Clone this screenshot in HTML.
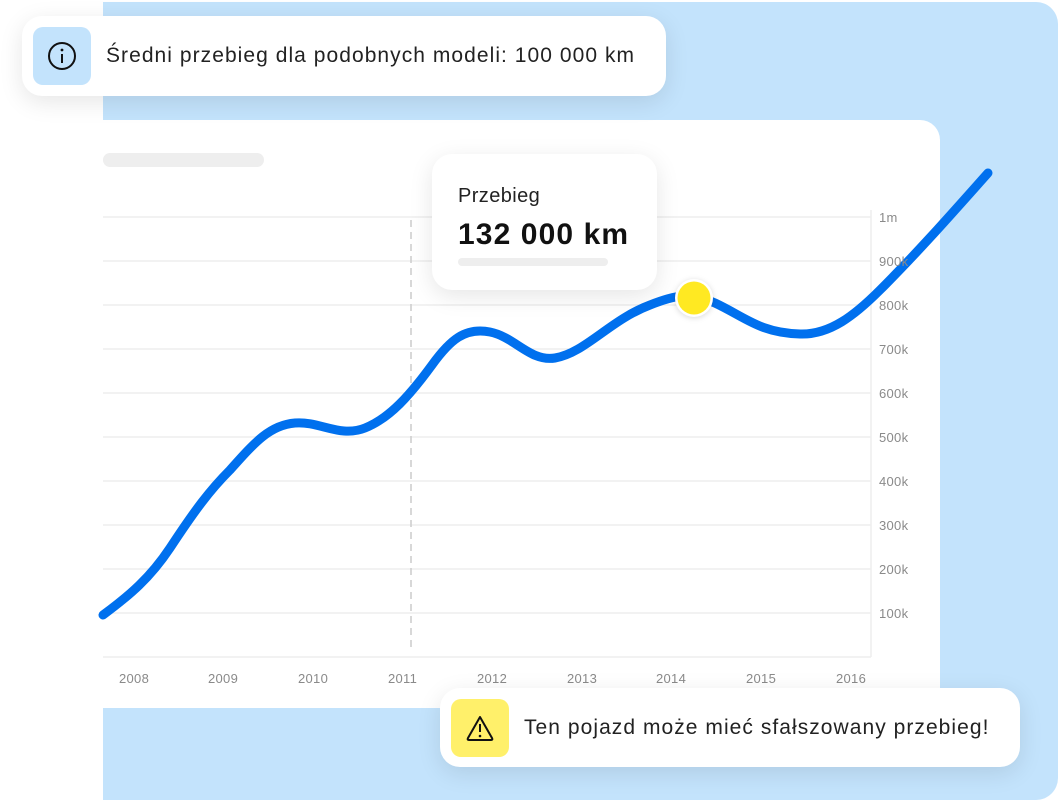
<!DOCTYPE html>
<html><head><meta charset="utf-8"><style>
*{margin:0;padding:0;box-sizing:border-box}
body{width:1058px;height:800px;background:#fff;position:relative;overflow:hidden;font-family:"Liberation Sans",sans-serif}
.bg{position:absolute;left:103px;top:2px;width:955px;height:798px;background:#c3e3fc;border-radius:0 22px 22px 0}
.card{position:absolute;left:103px;top:120px;width:837px;height:588px;background:#fff;border-radius:0 20px 20px 0}
.pill{position:absolute;background:#fff;border-radius:20px;box-shadow:0 6px 24px rgba(0,0,0,.10);display:flex;align-items:center}
.ic{width:58px;height:58px;border-radius:10px;display:flex;align-items:center;justify-content:center;margin:0 15px 0 11px}
.lab{position:absolute;font-size:13px;color:#8a8a8a;letter-spacing:.3px}
</style></head><body>
<div class="bg"></div>
<div class="card"></div>
<svg style="position:absolute;left:0;top:0" width="1058" height="800">
<rect x="103" y="153" width="161" height="14" rx="7" fill="#eeeeee"/>
<g stroke="#eeeeee" stroke-width="1.5">
<line x1="103" y1="217" x2="871" y2="217"/><line x1="103" y1="261" x2="871" y2="261"/>
<line x1="103" y1="305" x2="871" y2="305"/><line x1="103" y1="349" x2="871" y2="349"/>
<line x1="103" y1="393" x2="871" y2="393"/><line x1="103" y1="437" x2="871" y2="437"/>
<line x1="103" y1="481" x2="871" y2="481"/><line x1="103" y1="525" x2="871" y2="525"/>
<line x1="103" y1="569" x2="871" y2="569"/><line x1="103" y1="613" x2="871" y2="613"/>
<line x1="103" y1="657" x2="871" y2="657"/><line x1="871" y1="210" x2="871" y2="657"/>
</g>
<line x1="411" y1="220" x2="411" y2="650" stroke="#cccccc" stroke-width="1.5" stroke-dasharray="7,5"/>
<path d="M103,615 C130,595 150,578 170,548 C195,510 210,490 230,470 C255,442 270,425 295,423 C320,421 340,438 365,428 C390,418 410,395 432,365 C450,340 465,327 490,332 C515,337 530,362 555,358 C585,353 610,320 650,305 C675,295 690,292 715,303 C745,317 760,333 800,334 C830,335 855,315 880,290 C920,250 955,210 988,173" fill="none" stroke="#0070ee" stroke-width="9" stroke-linecap="round"/>
<circle cx="694" cy="298" r="19" fill="#ffffff" style="filter:drop-shadow(0 1px 3px rgba(0,0,0,.15))"/>
<circle cx="694" cy="298" r="16.5" fill="#ffe922"/>
</svg>
<div class="lab" style="left:879px;top:210px">1m</div>
<div class="lab" style="left:879px;top:254px">900k</div>
<div class="lab" style="left:879px;top:298px">800k</div>
<div class="lab" style="left:879px;top:342px">700k</div>
<div class="lab" style="left:879px;top:386px">600k</div>
<div class="lab" style="left:879px;top:430px">500k</div>
<div class="lab" style="left:879px;top:474px">400k</div>
<div class="lab" style="left:879px;top:518px">300k</div>
<div class="lab" style="left:879px;top:562px">200k</div>
<div class="lab" style="left:879px;top:606px">100k</div>
<div class="lab" style="left:119px;top:671px">2008</div>
<div class="lab" style="left:208px;top:671px">2009</div>
<div class="lab" style="left:298px;top:671px">2010</div>
<div class="lab" style="left:388px;top:671px">2011</div>
<div class="lab" style="left:477px;top:671px">2012</div>
<div class="lab" style="left:567px;top:671px">2013</div>
<div class="lab" style="left:656px;top:671px">2014</div>
<div class="lab" style="left:746px;top:671px">2015</div>
<div class="lab" style="left:836px;top:671px">2016</div>
<div style="position:absolute;left:432px;top:154px;width:225px;height:136px;background:#fff;border-radius:20px;box-shadow:0 6px 24px rgba(0,0,0,.10)">
<div style="position:absolute;left:26px;top:31px;font-size:20px;color:#222;letter-spacing:.4px">Przebieg</div>
<div style="position:absolute;left:26px;top:64px;font-size:30px;font-weight:bold;color:#111;letter-spacing:1.1px">132 000 km</div>
<div style="position:absolute;left:26px;top:104px;width:150px;height:8px;border-radius:4px;background:#eee"></div>
</div>
<div class="pill" style="left:22px;top:16px;width:644px;height:80px">
<div class="ic" style="background:#c3e3fc"><svg width="30" height="30"><circle cx="15" cy="15" r="13" fill="none" stroke="#111" stroke-width="2"/><line x1="15" y1="13" x2="15" y2="22" stroke="#111" stroke-width="2"/><circle cx="15" cy="9" r="1.4" fill="#111"/></svg></div>
<span style="font-size:21px;color:#222;letter-spacing:1.05px">Średni przebieg dla podobnych modeli: 100 000 km</span></div>
<div class="pill" style="left:440px;top:688px;width:580px;height:79px">
<div class="ic" style="background:#fff06a"><svg width="30" height="30"><path d="M15 4 L27 25 Q28 27 26 27 L4 27 Q2 27 3 25 Z" fill="none" stroke="#111" stroke-width="2" stroke-linejoin="round"/><line x1="15" y1="11" x2="15" y2="19" stroke="#111" stroke-width="2"/><circle cx="15" cy="23" r="1.3" fill="#111"/></svg></div>
<span style="font-size:21px;color:#222;letter-spacing:1.05px">Ten pojazd może mieć sfałszowany przebieg!</span></div>
</body></html>
